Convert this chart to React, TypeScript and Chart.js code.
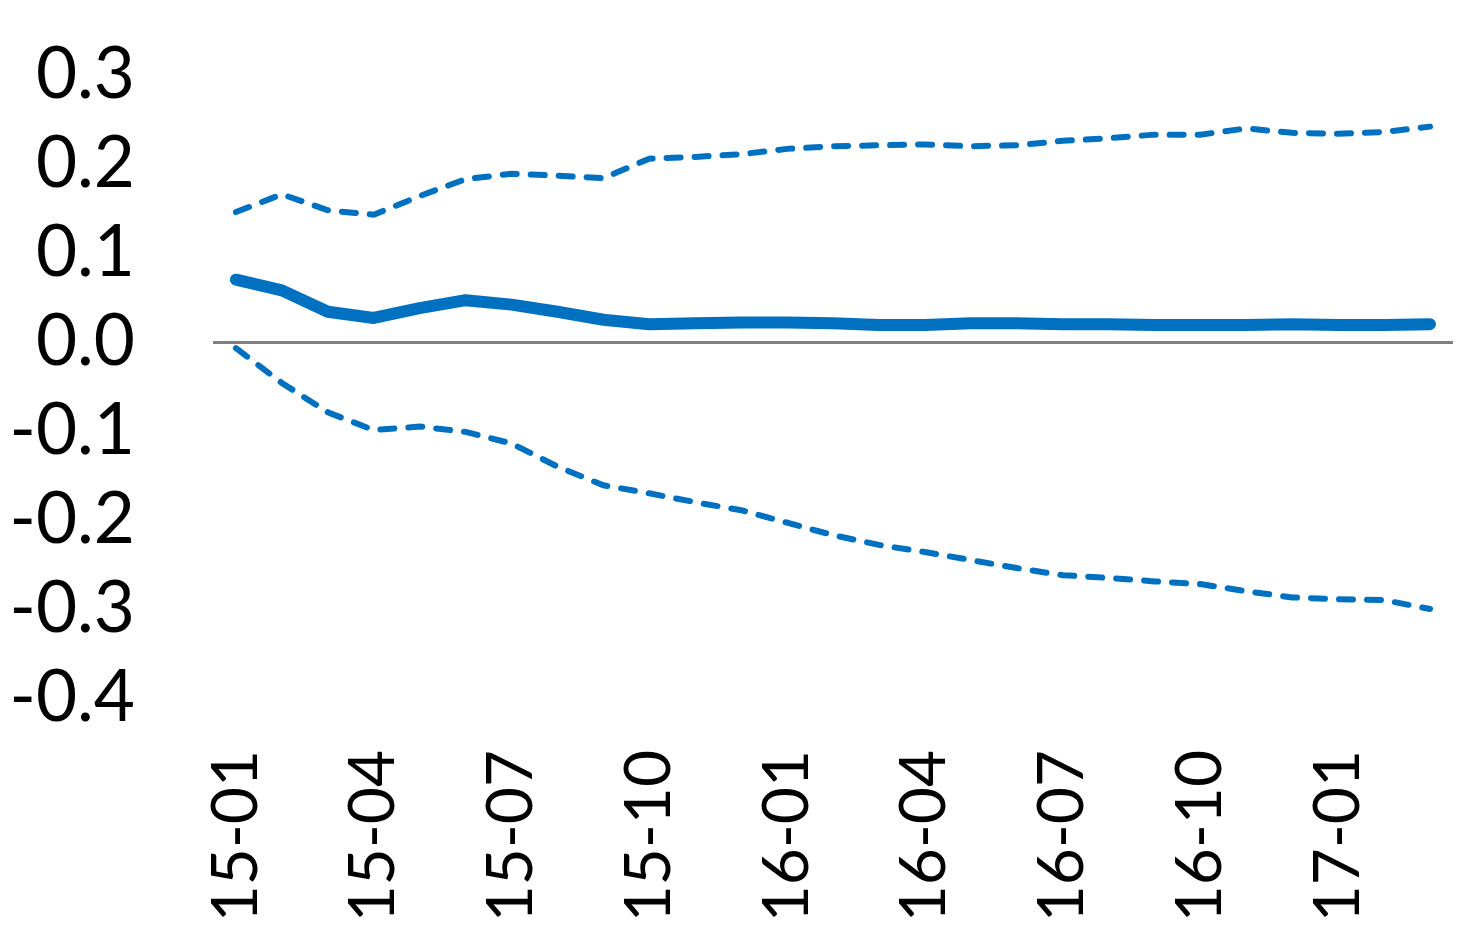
import React, { useEffect, useRef } from "react";
import { Chart, registerables } from "chart.js";

Chart.register(...registerables);

const months: string[] = [
  "15-01", "15-02", "15-03", "15-04", "15-05", "15-06", "15-07", "15-08", "15-09",
  "15-10", "15-11", "15-12", "16-01", "16-02", "16-03", "16-04", "16-05", "16-06",
  "16-07", "16-08", "16-09", "16-10", "16-11", "16-12", "17-01", "17-02", "17-03",
];

const central: number[] = [
  0.070, 0.058, 0.034, 0.027, 0.038, 0.047, 0.042, 0.034, 0.025,
  0.020, 0.021, 0.022, 0.022, 0.021, 0.019, 0.019, 0.021, 0.021,
  0.020, 0.020, 0.019, 0.019, 0.019, 0.020, 0.019, 0.019, 0.020,
];

const upper: number[] = [
  0.146, 0.166, 0.148, 0.143, 0.164, 0.183, 0.189, 0.187, 0.184,
  0.206, 0.208, 0.211, 0.217, 0.220, 0.221, 0.222, 0.220, 0.221,
  0.226, 0.229, 0.233, 0.233, 0.240, 0.235, 0.234, 0.236, 0.242,
];

const lower: number[] = [
  -0.007, -0.046, -0.079, -0.099, -0.095, -0.101, -0.114, -0.140, -0.161,
  -0.170, -0.180, -0.189, -0.203, -0.217, -0.228, -0.236, -0.245, -0.254,
  -0.262, -0.265, -0.269, -0.272, -0.280, -0.287, -0.289, -0.290, -0.300,
];

const yMin = -0.4;
const yMax = 0.3;
const yStep = 0.1;

const BLUE = "#0070C0";
const FONT = "Lato, 'Open Sans', sans-serif";

export default function App() {
  const ref = useRef<HTMLCanvasElement | null>(null);

  useEffect(() => {
    if (!ref.current) return;
    const dashed = {
      borderColor: BLUE,
      borderWidth: 6,
      borderDash: [14, 14],
      borderCapStyle: "round" as const,
      pointRadius: 0,
      tension: 0,
      fill: false,
    };
    const chart = new Chart(ref.current, {
      type: "line",
      data: {
        labels: months,
        datasets: [
          { ...dashed, label: "Upper", data: upper },
          { ...dashed, label: "Lower", data: lower },
          {
            label: "Central",
            data: central,
            borderColor: BLUE,
            borderWidth: 12,
            borderCapStyle: "round",
            borderJoinStyle: "round",
            pointRadius: 0,
            tension: 0,
            fill: false,
          },
        ],
      },
      options: {
        animation: false,
        responsive: false,
        maintainAspectRatio: false,
        layout: { padding: { top: 75, right: 29, bottom: 0, left: 0 } },
        plugins: { legend: { display: false }, tooltip: { enabled: false } },
        scales: {
          x: {
            offset: true,
            grid: { display: false, drawTicks: false },
            border: { display: false },
            afterFit: (scale: any) => {
              scale.height = 250;
              scale.paddingLeft = 0;
              scale.paddingRight = 0;
            },
            ticks: {
              autoSkip: false,
              maxRotation: 90,
              minRotation: 90,
              padding: 52,
              color: "#000",
              font: { family: FONT, size: 64 },
              callback: (_v: any, i: number) => (i % 3 === 0 ? months[i] : null),
            },
          },
          y: {
            min: yMin,
            max: yMax,
            afterFit: (scale: any) => {
              scale.width = 213;
              scale.paddingTop = 0;
              scale.paddingBottom = 0;
            },
            grid: {
              drawTicks: false,
              lineWidth: 3,
              color: (ctx: any) =>
                ctx.tick && Math.abs(ctx.tick.value) < 1e-9 ? "#808080" : "rgba(0,0,0,0)",
            },
            border: { display: false },
            ticks: {
              autoSkip: false,
              stepSize: yStep,
              padding: 78,
              color: "#000",
              font: { family: FONT, size: 71 },
              callback: (v: any) => (Math.round(Number(v) * 10) / 10).toFixed(1),
            },
          },
        },
      },
    });
    return () => chart.destroy();
  }, []);

  return (
    <div style={{ position: "absolute", left: 0, top: 0, width: 1482, height: 948, background: "#fff" }}>
      <canvas ref={ref} width={1482} height={948} style={{ width: 1482, height: 948 }} />
    </div>
  );
}
